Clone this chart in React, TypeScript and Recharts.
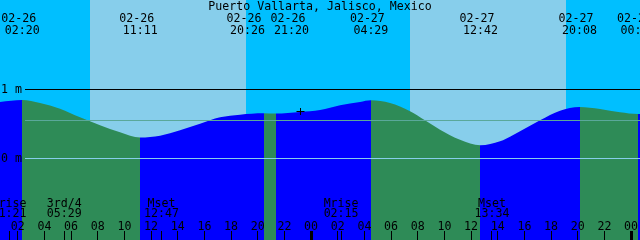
import React from 'react';
import {
  ComposedChart, Area, XAxis, YAxis, ReferenceArea, ReferenceLine, ReferenceDot,
} from 'recharts';

const TITLE = 'Puerto Vallarta, Jalisco, Mexico';

// time axis: hours after 02-26 00:00
const T_START = 0.667;
const T_END = 48.667;
const Y_MIN = -1.181;
const Y_MAX = 2.297;

// tide height (m)
const tideTimes = [
  0.667, 2.33, 3.67, 5.17, 6.67, 8.17, 9.67, 11.18, 12.67, 14.17, 15.67, 17.17,
  18.67, 20.43, 21.33, 23.17, 24.67, 26.17, 27.67, 28.48, 29.92, 31.42, 32.54,
  33.67, 35.17, 36.7, 38.17, 39.67, 41.17, 42.67, 44.13, 45.67, 47.17, 48.52, 48.667,
];
const tideHeights = [
  0.819, 0.848, 0.804, 0.722, 0.597, 0.481, 0.38, 0.304, 0.33, 0.409, 0.504, 0.597,
  0.635, 0.655, 0.651, 0.674, 0.703, 0.771, 0.819, 0.843, 0.804, 0.684, 0.554,
  0.417, 0.272, 0.191, 0.249, 0.394, 0.554, 0.693, 0.746, 0.717, 0.67, 0.645, 0.646,
];

// high / low tides
const extremeTimes = [2.333, 11.183, 20.433, 21.333, 28.483, 36.7, 44.133, 48.517];
const extremeKinds = ['high', 'low', 'high', 'low', 'high', 'low', 'high', 'low'];
const extremeDates = ['02-26', '02-26', '02-26', '02-26', '02-27', '02-27', '02-27', '02-28'];
const extremeClock = ['02:20', '11:11', '20:26', '21:20', '04:29', '12:42', '20:08', '00:31'];

const sunriseTimes = [7.417, 31.417];
const sunsetTimes = [19.117, 43.117];

const moonTimes = [1.35, 5.483, 12.783, 26.25, 37.567];
const moonNames = ['Mrise', '3rd/4', 'Mset', 'Mrise', 'Mset'];
const moonClock = ['01:21', '05:29', '12:47', '02:15', '13:34'];

const hourTicks = [2, 4, 6, 8, 10, 12, 14, 16, 18, 20, 22, 24, 26, 28, 30, 32, 34, 36, 38, 40, 42, 44, 46, 48];

const levels = [1, 0.551, 0];
const levelLabels = ['1 m', '', '0 m'];

const NOW_T = 23.17;
const NOW_H = 0.674;

const DAY = '#87ceeb';
const NIGHT = '#00bfff';
const FLOOD = '#0000ff';
const EBB = '#2e8b57';
const LEVEL_COLORS = ['#000000', '#5aa89a', '#87ceeb'];

const FONT = { fontFamily: '"DejaVu Sans Mono", monospace', fontSize: 11.6, fill: '#000' };

const tideData = tideTimes.map((t, i) => ({ t, h: tideHeights[i] }));

const skyBands = [
  { x1: T_START, x2: sunriseTimes[0], fill: NIGHT },
  { x1: sunriseTimes[0], x2: sunsetTimes[0], fill: DAY },
  { x1: sunsetTimes[0], x2: sunriseTimes[1], fill: NIGHT },
  { x1: sunriseTimes[1], x2: sunsetTimes[1], fill: DAY },
  { x1: sunsetTimes[1], x2: T_END, fill: NIGHT },
];

// rising water = flood colour, falling = ebb colour
const bounds = [T_START, ...extremeTimes, T_END];
const segColors = bounds.slice(1).map((_, i) =>
  i < extremeKinds.length ? (extremeKinds[i] === 'high' ? FLOOD : EBB)
    : (extremeKinds[extremeKinds.length - 1] === 'high' ? EBB : FLOOD));
const frac = (t: number) => (t - T_START) / (T_END - T_START);

// push apart labels that would overlap (in hours)
function spread(ts: number[], gap: number) {
  const out = [...ts];
  for (let i = 1; i < out.length; i++) {
    if (out[i] - out[i - 1] < gap) {
      const mid = (out[i] + out[i - 1]) / 2;
      out[i - 1] = mid - gap / 2;
      out[i] = mid + gap / 2;
    }
  }
  return out;
}
const extremeLabelTimes = spread(extremeTimes, 3.3);

const px = (v: number) => Math.floor(v) + 0.5;
const top = (p: any) => Math.min(p.y1, p.y2);
const bottom = (p: any) => Math.max(p.y1, p.y2);

const hourShape = (h: number) => (p: any) => {
  const b = bottom(p);
  return (
    <g>
      <line x1={px(p.x1)} x2={px(p.x1)} y1={b - 9} y2={b} stroke="#000" strokeWidth={h % 24 === 0 ? 3 : 1} />
      <text x={p.x1} y={b - 10} textAnchor="middle" {...FONT}>{String(h % 24).padStart(2, '0')}</text>
    </g>
  );
};

const moonShape = (i: number) => (p: any) => {
  const b = bottom(p);
  return (
    <g>
      <line x1={px(p.x1)} x2={px(p.x1)} y1={b - 9} y2={b} stroke="#000" strokeWidth={1} />
      <text x={p.x1} y={b - 33.5} textAnchor="middle" {...FONT}>{moonNames[i]}</text>
      <text x={p.x1} y={b - 23} textAnchor="middle" {...FONT}>{moonClock[i]}</text>
    </g>
  );
};

const extremeShape = (i: number) => (p: any) => {
  const t = top(p);
  return (
    <g>
      <text x={p.x1} y={t + 22} dx={-3.5} textAnchor="middle" {...FONT}>{extremeDates[i]}</text>
      <text x={p.x1} y={t + 33.5} textAnchor="middle" {...FONT}>{extremeClock[i]}</text>
    </g>
  );
};

const levelShape = (i: number) => (p: any) => {
  const y = px(p.y1);
  return (
    <g>
      <line x1={Math.min(p.x1, p.x2) + 25} x2={Math.max(p.x1, p.x2)} y1={y} y2={y} stroke={LEVEL_COLORS[i]} strokeWidth={1} />
      {levelLabels[i] && <text x={1} y={y + 3.5} {...FONT}>{levelLabels[i]}</text>}
    </g>
  );
};

const crossShape = (p: any) => {
  const x = px(p.cx);
  const y = px(p.cy);
  return (
    <g>
      <line x1={x - 4} x2={x + 4} y1={y} y2={y} stroke="#000" strokeWidth={1} />
      <line x1={x} x2={x} y1={y - 3.5} y2={y + 3.5} stroke="#000" strokeWidth={1} />
    </g>
  );
};

export default function App() {
  return (
    <div style={{ position: 'fixed', left: 0, top: 0, width: 640, height: 240 }}>
      <ComposedChart width={640} height={240} data={tideData} margin={{ top: 0, right: 0, bottom: 0, left: 0 }}>
        <defs>
          <linearGradient id="tideFill" x1="0" y1="0" x2="1" y2="0">
            {segColors.flatMap((c, i) => [
              <stop key={`a${i}`} offset={frac(bounds[i])} stopColor={c} />,
              <stop key={`b${i}`} offset={frac(bounds[i + 1])} stopColor={c} />,
            ])}
          </linearGradient>
        </defs>
        <XAxis type="number" dataKey="t" domain={[T_START, T_END]} hide allowDataOverflow />
        <YAxis type="number" domain={[Y_MIN, Y_MAX]} hide allowDataOverflow />
        {skyBands.map((b, i) => (
          <ReferenceArea key={`sky${i}`} x1={b.x1} x2={b.x2} fill={b.fill} fillOpacity={1} stroke="none" zIndex={-200} />
        ))}
        <Area
          type="monotone"
          dataKey="h"
          baseValue={Y_MIN}
          fill="url(#tideFill)"
          fillOpacity={1}
          stroke="none"
          dot={false}
          activeDot={false}
          isAnimationActive={false}
          zIndex={100}
        />
        {levels.map((v, i) => (
          <ReferenceLine key={`lvl${i}`} y={v} shape={levelShape(i)} zIndex={500} />
        ))}
        {hourTicks.map((h) => (
          <ReferenceLine key={`h${h}`} x={h} shape={hourShape(h)} zIndex={600} />
        ))}
        {moonTimes.map((t, i) => (
          <ReferenceLine key={`m${i}`} x={t} shape={moonShape(i)} zIndex={600} />
        ))}
        {extremeLabelTimes.map((t, i) => (
          <ReferenceLine key={`e${i}`} x={t} shape={extremeShape(i)} zIndex={600} />
        ))}
        <ReferenceDot x={NOW_T} y={NOW_H} shape={crossShape} zIndex={700} />
        <text x={320} y={10} textAnchor="middle" {...FONT}>{TITLE}</text>
      </ComposedChart>
    </div>
  );
}
